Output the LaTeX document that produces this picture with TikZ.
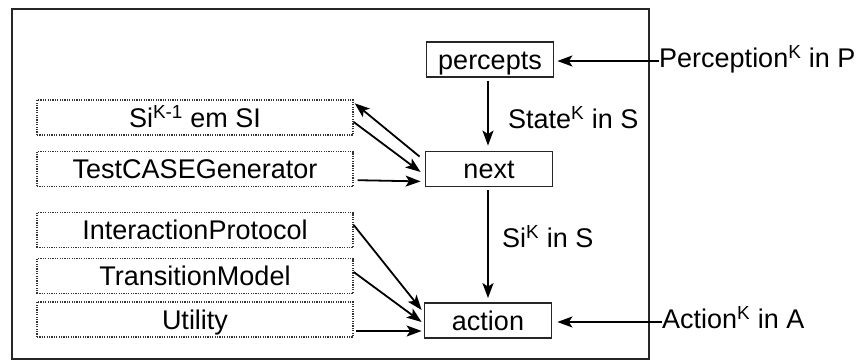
\documentclass[tikz,border=0pt]{standalone}
\usepackage{fontspec}
\setmainfont{Liberation Sans}
\usetikzlibrary{arrows.meta,calc}
\begin{document}
\begin{tikzpicture}[x=1pt,y=-1pt,
  every node/.style={font=\fontsize{27}{31}\selectfont, inner sep=0pt, text height=24.7pt, text depth=5.4pt},
  solidbox/.style={draw=black!85, line width=1.8pt, minimum width=127pt, minimum height=35pt},
  dotbox/.style={draw=black!80, line width=1.4pt, dash pattern=on 1.2pt off 1.2pt, minimum width=316pt, minimum height=35pt},
  arr/.style={-{Stealth[length=15pt,width=11pt,inset=3.5pt]}, line width=1.8pt},
  lbl/.style={anchor=west}]
\useasboundingbox (0,0) rectangle (862,361);
% agent frame
\draw[line width=1.8pt, draw=black!85] (12,9) rectangle (649,359);

% core boxes
\node[solidbox] (percepts) at (490,59.5) {percepts};
\node[solidbox] (next) at (489,169) {next};
\node[solidbox] (action) at (488,320.5) {action};

% component boxes
\node[dotbox] (si) at (195,117.5) {Si\textsuperscript{K-1} em SI};
\node[dotbox] (tcg) at (195,169) {TestCASEGenerator};
\node[dotbox] (ip) at (195,230) {InteractionProtocol};
\node[dotbox] (tm) at (195,276) {TransitionModel};
\node[dotbox] (util) at (195,319.5) {Utility};

% external inputs and outputs
\node[lbl] (perc) at (659,58) {Perception\textsuperscript{K} in P};
\node[lbl] (act) at (662,319) {Action\textsuperscript{K} in A};
\node[lbl] (state) at (508,119) {State\textsuperscript{K} in S};
\node[lbl] (sik) at (502,238) {Si\textsuperscript{K} in S};

% connectors
\draw[arr] (perc.west |- 0,61) -- ($(percepts.east)+(3,1.5)$);
\draw[arr] ($(percepts.south)+(-2,3)$) -- ($(next.north)+(-1,-5)$);
\draw[arr] ($(next.south)+(-1,3)$) -- ($(action.north)+(0,-4)$);
\draw[arr] (act.west |- 0,322) -- ($(action.east)+(5,1.5)$);

\draw[arr] ($(next.north west)+(-5,6)$) -- ($(si.north east)+(1,4)$);
\draw[arr] ($(si.east)+(0,4.5)$) -- ($(next.west)+(-4,3)$);
\draw[arr] ($(tcg.south east)+(4,-7)$) -- ($(next.south west)+(-4,-6)$);

\draw[arr] ($(ip.east)+(0,-5)$) -- ($(action.west)+(-2,-10.5)$);
\draw[arr] ($(tm.east)+(0,-4)$) -- ($(action.west)+(-2,1.5)$);
\draw[arr] ($(util.east)+(2,11.5)$) -- ($(action.west)+(-2,10.5)$);
\end{tikzpicture}
\end{document}
